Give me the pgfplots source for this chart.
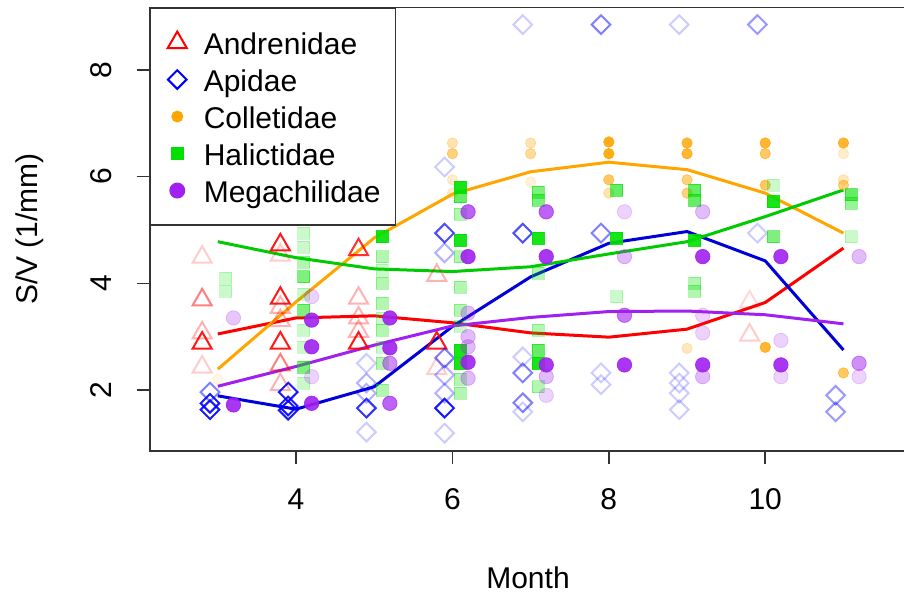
\documentclass[border=0pt]{standalone}
\usepackage{pgfplots}
\pgfplotsset{compat=1.18}
\usepackage{pgfplotstable}
\usepackage{fontspec}
\setmainfont{Liberation Sans}
\definecolor{rred}{HTML}{FF0000}
\definecolor{rblue}{HTML}{0000FF}
\definecolor{rorange}{HTML}{FFA500}
\definecolor{rgreen}{HTML}{00E000}
\definecolor{rpurple}{HTML}{A020F0}
\newcommand{\myfont}{\fontsize{15}{18}\selectfont}

\pgfplotstableread{
x y a
2.8 4.49 0.2
2.8 3.69 0.5
2.8 3.07 0.3
2.8 2.88 0.9
2.8 2.43 0.2
3.8 4.72 0.9
3.8 4.53 0.2
3.8 3.72 0.9
3.8 3.55 0.3
3.8 3.30 0.3
3.8 2.88 0.9
3.8 2.47 0.5
3.8 2.10 0.3
4.8 4.63 0.8
4.8 3.72 0.3
4.8 3.35 0.3
4.8 3.10 0.3
4.8 2.88 0.9
5.8 4.15 0.3
5.8 2.88 0.9
5.8 2.40 0.2
9.8 3.65 0.15
9.8 3.03 0.2
}\andrenidae

\pgfplotstableread{
x y a
2.9 1.96 0.5
2.9 1.75 0.9
2.9 1.63 0.9
3.9 1.96 0.9
3.9 1.70 0.9
3.9 1.62 0.9
4.9 2.50 0.2
4.9 2.13 0.3
4.9 1.94 0.3
4.9 1.66 0.8
4.9 1.21 0.2
5.9 6.18 0.2
5.9 4.94 0.7
5.9 4.57 0.3
5.9 2.60 0.5
5.9 2.28 0.3
5.9 1.94 0.3
5.9 1.66 0.9
5.9 1.19 0.2
6.9 8.85 0.2
6.9 4.94 0.7
6.9 2.62 0.2
6.9 2.32 0.5
6.9 1.76 0.5
6.9 1.59 0.2
7.9 8.85 0.5
7.9 4.94 0.5
7.9 2.32 0.2
7.9 2.10 0.2
8.9 8.85 0.2
8.9 2.32 0.2
8.9 2.13 0.2
8.9 1.94 0.2
8.9 1.63 0.2
9.9 8.85 0.4
9.9 4.94 0.2
10.9 1.90 0.4
10.9 1.59 0.4
}\apidae

\pgfplotstableread{
x y a
3 2.20 0.1
6 6.63 0.3
6 6.43 0.5
6 5.94 0.2
6 5.69 0.2
7 6.63 0.3
7 6.43 0.4
7 5.90 0.15
8 6.65 0.9
8 6.43 0.9
8 5.94 0.6
8 5.69 0.3
9 6.63 0.8
9 6.43 0.8
9 5.94 0.5
9 5.69 0.5
9 2.78 0.25
10 6.63 0.8
10 6.43 0.6
10 5.84 0.6
10 2.80 0.8
11 6.63 0.8
11 6.43 0.2
11 5.94 0.25
11 5.84 0.5
11 2.32 0.6
}\colletidae

\pgfplotstableread{
x y a
3.1 4.10 0.2
3.1 3.85 0.2
4.1 4.94 0.2
4.1 4.68 0.2
4.1 4.40 0.3
4.1 4.12 0.5
4.1 3.80 0.2
4.1 3.50 0.5
4.1 3.12 0.2
4.1 2.80 0.2
4.1 2.43 0.5
4.1 2.13 0.2
5.1 4.87 0.9
5.1 4.50 0.3
5.1 4.25 0.2
5.1 4.00 0.3
5.1 3.63 0.3
5.1 3.35 0.2
5.1 3.12 0.3
5.1 2.80 0.2
5.1 2.50 0.3
5.1 2.00 0.3
6.1 5.80 0.9
6.1 5.62 0.6
6.1 5.30 0.3
6.1 4.81 0.9
6.1 4.50 0.3
6.1 3.93 0.3
6.1 3.50 0.3
6.1 3.20 0.2
6.1 2.75 0.9
6.1 2.50 0.9
6.1 2.20 0.3
6.1 1.94 0.3
7.1 5.71 0.5
7.1 5.56 0.5
7.1 4.85 0.9
7.1 4.19 0.3
7.1 3.12 0.3
7.1 2.75 0.6
7.1 2.50 0.9
7.1 2.06 0.3
8.1 5.75 0.6
8.1 4.85 0.9
8.1 3.75 0.2
9.1 5.75 0.6
9.1 5.56 0.6
9.1 4.81 0.9
9.1 4.00 0.3
9.1 3.85 0.3
10.1 5.84 0.2
10.1 5.53 0.9
10.1 4.87 0.5
11.1 5.66 0.6
11.1 5.50 0.4
11.1 4.87 0.2
}\halictidae

\pgfplotstableread{
x y a
3.2 3.35 0.25
3.2 1.72 0.9
4.2 3.75 0.2
4.2 3.31 0.9
4.2 2.81 0.9
4.2 2.25 0.2
4.2 1.75 0.9
5.2 3.35 0.9
5.2 2.79 0.9
5.2 2.50 0.5
5.2 1.75 0.7
6.2 5.34 0.7
6.2 4.50 0.9
6.2 3.44 0.3
6.2 3.00 0.3
6.2 2.81 0.3
6.2 2.52 0.9
6.2 2.22 0.3
7.2 5.34 0.7
7.2 4.50 0.9
7.2 2.47 0.9
7.2 2.25 0.3
7.2 1.90 0.2
8.2 5.34 0.2
8.2 4.50 0.3
8.2 3.40 0.6
8.2 2.47 0.9
9.2 5.34 0.3
9.2 4.50 0.9
9.2 3.40 0.2
9.2 3.07 0.2
9.2 2.47 0.9
9.2 2.25 0.3
10.2 4.50 0.9
10.2 2.93 0.2
10.2 2.47 0.9
10.2 2.25 0.2
11.2 4.50 0.3
11.2 2.50 0.5
11.2 2.25 0.2
}\megachilidae

\pgfplotsset{
  alphamarks/.style={scatter, only marks, scatter src=y, forget plot,
    visualization depends on={\thisrow{a}\as\opac},
    scatter/@pre marker code/.code={\scope[opacity=\opac]},
    scatter/@post marker code/.code={\endscope}},
  fitline/.style={no marks, line width=1.5pt, forget plot},
}

\begin{document}
\begin{tikzpicture}
\useasboundingbox (-75pt,-73.5pt) rectangle (377pt,225.5pt);
\begin{axis}[
  at={(0,0)}, anchor=south west,
  scale only axis, width=378pt, height=221.85pt,
  xmin=2.133, xmax=11.80, ymin=0.856, ymax=9.174,
  xtick={4,6,8,10}, ytick={2,4,6,8},
  tick pos=left, tick align=outside,
  major tick length=6.5pt,
  axis line style={line width=0.75pt, black!80},
  tick style={line width=0.75pt, black!80},
  /pgf/number format/assume math mode=true,
  tick label style={font=\myfont},
  xticklabel style={inner sep=0pt, anchor=north, yshift=-12pt},
  yticklabel style={inner sep=0pt, xshift=-12.5pt, rotate=90, anchor=south},
  xlabel={Month}, ylabel={S/V (1/mm)},
  every axis x label/.style={at={(axis description cs:0.5,-0.2867)}, anchor=center, font=\myfont},
  every axis y label/.style={at={(axis description cs:-0.1587,0.5)}, anchor=center, rotate=90, font=\myfont},
  legend style={at={(0,1)}, anchor=north west, draw=black!80, line width=0.75pt,
    fill=white, inner xsep=8.5pt, inner ysep=8pt, row sep=0pt,
    font=\myfont,
    nodes={inner sep=2pt, text height=13pt, text depth=1.5pt},
    /tikz/every odd column/.append style={column sep=6.5pt}},
  legend cell align=left,
]
\addplot[alphamarks, rred, mark=triangle, mark size=5.5pt, mark options={line width=1pt}] table[x=x,y=y] {\andrenidae};
\addplot[alphamarks, rblue, mark=square, mark size=3.3pt, mark options={line width=1pt, rotate=45}] table[x=x,y=y] {\apidae};
\addplot[alphamarks, rorange, mark=*, mark size=2.6pt, mark options={draw=none}] table[x=x,y=y] {\colletidae};
\addplot[alphamarks, rgreen, mark=square*, mark size=3pt, mark options={draw=none}] table[x=x,y=y] {\halictidae};
\addplot[alphamarks, rpurple, mark=*, mark size=3.6pt, mark options={draw=none}] table[x=x,y=y] {\megachilidae};

\addplot[fitline, rred] coordinates {(3,3.05) (4,3.35) (5,3.39) (6,3.26) (7,3.07) (8,2.99) (9,3.14) (10,3.64) (11,4.66)};
\addplot[fitline, rblue!85!black] coordinates {(3,1.89) (4,1.64) (5,2.06) (6,3.19) (7,4.12) (8,4.75) (9,4.97) (10,4.42) (11,2.75)};
\addplot[fitline, rorange] coordinates {(3,2.39) (4,3.65) (5,4.85) (6,5.67) (7,6.09) (8,6.27) (9,6.13) (10,5.69) (11,4.94)};
\addplot[fitline, rgreen!90!black] coordinates {(3,4.78) (4,4.48) (5,4.27) (6,4.22) (7,4.31) (8,4.55) (9,4.78) (10,5.25) (11,5.75)};
\addplot[fitline, rpurple] coordinates {(3,2.07) (4,2.44) (5,2.84) (6,3.20) (7,3.36) (8,3.47) (9,3.48) (10,3.41) (11,3.24)};

\addlegendimage{only marks, mark=triangle, mark size=5.5pt, rred, mark options={line width=1pt}}
\addlegendentry{Andrenidae}
\addlegendimage{only marks, mark=square, mark size=3.3pt, rblue, mark options={line width=1pt, rotate=45}}
\addlegendentry{Apidae}
\addlegendimage{only marks, mark=*, mark size=2.6pt, rorange, mark options={draw=none}}
\addlegendentry{Colletidae}
\addlegendimage{only marks, mark=square*, mark size=3pt, rgreen, mark options={draw=none}}
\addlegendentry{Halictidae}
\addlegendimage{only marks, mark=*, mark size=3.6pt, rpurple, mark options={draw=none}}
\addlegendentry{Megachilidae\kern-3pt}
\end{axis}
\end{tikzpicture}
\end{document}
